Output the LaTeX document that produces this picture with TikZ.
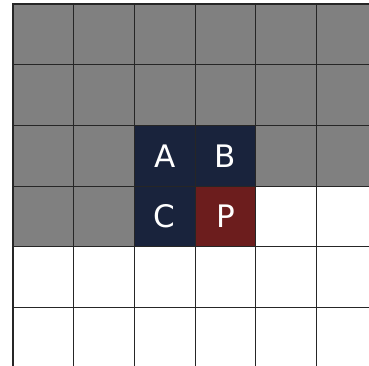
\documentclass[tikz,border=0pt]{standalone}
\usepackage{fontspec}
\setmainfont{DejaVu Sans}
\usepackage{tikz}
\definecolor{shade}{RGB}{128,128,128}
\definecolor{navy}{RGB}{25,35,60}
\definecolor{blood}{RGB}{108,29,29}

\begin{document}
\begin{tikzpicture}[
  x=1pt,y=-1pt,
  cell/.style={draw=black!85,line width=1.1pt,minimum size=60.7pt,inner sep=0pt,outer sep=0pt,
               anchor=north west,text=white,font=\fontsize{31}{31}\selectfont},
]
\def\sz{60.7}
\def\ox{13}
\def\oy{4}
\useasboundingbox (0,0) rectangle (369,366);
\clip (0,0) rectangle (369,366);
% grey cells
\foreach \r in {0,1}
  \foreach \c in {0,...,5}
    { \node[cell,fill=shade] (g\r\c) at ({\ox+\sz*\c},{\oy+\sz*\r}) {}; }
\foreach \r/\c in {2/0,2/1,2/4,2/5,3/0,3/1}
  { \node[cell,fill=shade] (g\r\c) at ({\ox+\sz*\c},{\oy+\sz*\r}) {}; }
% empty cells
\foreach \r/\c in {3/4,3/5}
  { \node[cell] (w\r\c) at ({\ox+\sz*\c},{\oy+\sz*\r}) {}; }
\foreach \r in {4,5}
  \foreach \c in {0,...,5}
    { \node[cell] (w\r\c) at ({\ox+\sz*\c},{\oy+\sz*\r}) {}; }
% labelled cells
\node[cell,fill=navy]  (A) at ({\ox+\sz*2},{\oy+\sz*2}) {A};
\node[cell,fill=navy]  (B) at ({\ox+\sz*3},{\oy+\sz*2}) {B};
\node[cell,fill=navy]  (C) at ({\ox+\sz*2},{\oy+\sz*3}) {C};
\node[cell,fill=blood] (P) at ({\ox+\sz*3},{\oy+\sz*3}) {P};
\end{tikzpicture}
\end{document}
